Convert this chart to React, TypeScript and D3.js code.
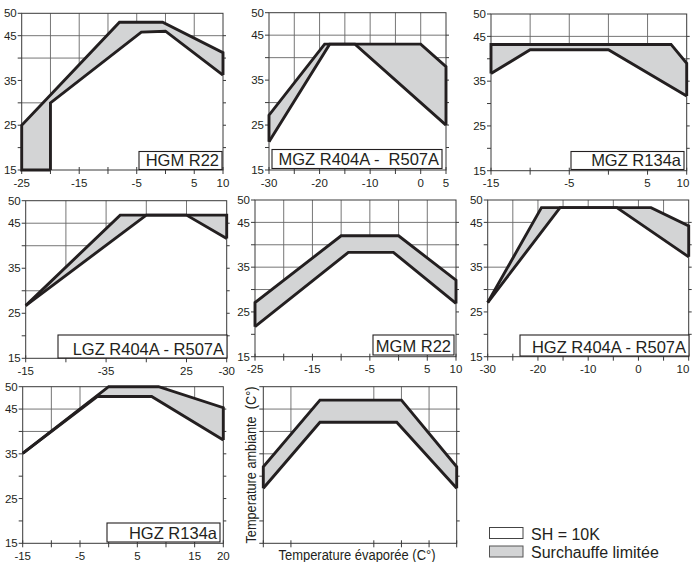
import React from "react";
import * as d3 from "d3";

type P = [number, number];

// ---- Data (evaporating temperature, ambient temperature) ----
const HGM_R22_OUTER: P[] = [[-20, 15], [-25, 15], [-25, 25], [-8, 48], [-0.5, 48], [10, 41.2], [10, 36.2]];
const HGM_R22_INNER: P[] = [[-20, 15], [-20, 30], [-4.2, 45.8], [0, 46], [10, 36.2]];

const MGZ_404_OUTER: P[] = [[-30, 21.3], [-30, 27.2], [-19, 43], [0, 43], [5, 38], [5, 25]];
const MGZ_404_INNER: P[] = [[-30, 21.3], [-18, 43], [-13, 43], [5, 25]];

const MGZ_134_OUTER: P[] = [[-15, 36.7], [-15, 43.2], [8, 43.2], [10, 39], [10, 31.7]];
const MGZ_134_INNER: P[] = [[-15, 36.7], [-10, 42], [0, 42], [10, 31.7]];

const LGZ_404_OUTER: P[] = [[0, 26.7], [2.35, 46.8], [5, 46.8], [5, 41.6]];
const LGZ_404_INNER: P[] = [[0, 26.7], [3, 46.8], [4, 46.8], [5, 41.6]];

const MGM_R22_OUTER: P[] = [[-25, 21.7], [-25, 27.1], [-10, 42], [0, 42], [10, 32.1], [10, 26.9]];
const MGM_R22_INNER: P[] = [[-25, 21.7], [-8.75, 38.3], [-0.9, 38.3], [10, 26.9]];

const HGZ_404_OUTER: P[] = [[-30, 27.1], [-19.3, 48.3], [2.5, 48.3], [10, 44.2], [10, 37.3]];
const HGZ_404_INNER: P[] = [[-30, 27.1], [-15.6, 48.3], [-4.3, 48.3], [10, 37.3]];

const HGZ_134_OUTER: P[] = [[-15, 35.1], [0, 50], [8.7, 50], [20, 45.3], [20, 38.1]];
const HGZ_134_INNER: P[] = [[-15, 35.1], [-2, 47.8], [7.5, 47.8], [20, 38.1]];

const GENERIC_OUTER: P[] = [[-25, 27.3], [-25, 32.1], [-14.75, 47], [0, 47], [10, 32.1], [10, 27.3]];
const GENERIC_INNER: P[] = [[-25, 27.3], [-14.75, 42.05], [-0.85, 42.05], [10, 27.3]];

// ---- Ticks ----
const Y_TICKS = [15, 20, 25, 30, 35, 40, 45, 50];
const Y_LABELS = [15, 25, 35, 45, 50];
const Y_TICKS_GENERIC = [20, 30, 35, 40, 45];

const X_TICKS_25_10 = [-25, -20, -15, -10, -5, 0, 5, 10];
const X_LABELS_25_10 = [-25, -15, -5, 5, 10];
const X_TICKS_30_5 = [-30, -25, -20, -15, -10, -5, 0, 5];
const X_LABELS_30_5 = [-30, -20, -10, 0, 5];
const X_TICKS_15_10 = [-15, -10, -5, 0, 5, 10];
const X_LABELS_15_10 = [-15, -5, 5, 10];
const X_TICKS_LGZ = [0, 1, 2, 3, 4, 5];
const X_LABELS_LGZ: [number, string][] = [[0, "-15"], [2, "-35"], [4, "25"], [5, "-30"]];
const X_TICKS_30_10 = [-30, -25, -20, -15, -10, -5, 0, 5, 10];
const X_LABELS_30_10 = [-30, -20, -10, 0, 10];
const X_TICKS_15_20 = [-15, -10, -5, 0, 5, 10, 15, 20];
const X_LABELS_15_20 = [-15, -5, 5, 15, 20];
const X_TICKS_GENERIC = [-25, -20, -5, 0, 5, 10];

const LEGEND_LABELS = ["SH = 10K", "Surchauffe limitée"];

const INK = "#231f20";
const GREY = "#d3d4d5";
const GRID = "#666666";
const FONT = "'Liberation Sans', Arial, Helvetica, sans-serif";

interface PanelCfg {
  name: string;
  outer: P[];
  inner: P[];
  xDomain: [number, number];
  xTicks: number[];
  xLabels: [number, string][];
  yTicks: number[];
  yLabels: number[];
  hGrid: number[];
  vGrid: number[];
  left: number;
  right: number;
  top: number;
  bottom: number;
  box?: { x: number; y: number; w: number; h: number };
}

const lab = (a: number[]): [number, string][] => a.map((v) => [v, String(v)]);

const PANELS: PanelCfg[] = [
  {
    name: "HGM R22", outer: HGM_R22_OUTER, inner: HGM_R22_INNER, xDomain: [-25, 10],
    xTicks: X_TICKS_25_10, xLabels: lab(X_LABELS_25_10), yTicks: Y_TICKS, yLabels: Y_LABELS,
    hGrid: [45, 40, 30, 20], vGrid: X_TICKS_25_10.slice(1, -1),
    left: 21.7, right: 223, top: 13.3, bottom: 170, box: { x: 139, y: 151.5, w: 83, h: 18 },
  },
  {
    name: "MGZ R404A -\u00a0\u00a0R507A", outer: MGZ_404_OUTER, inner: MGZ_404_INNER, xDomain: [-30, 5],
    xTicks: X_TICKS_30_5, xLabels: lab(X_LABELS_30_5), yTicks: Y_TICKS, yLabels: Y_LABELS,
    hGrid: [45, 40, 30, 20], vGrid: X_TICKS_30_5.slice(1, -1),
    left: 269, right: 446, top: 12.7, bottom: 170, box: { x: 272, y: 149.5, w: 170, h: 19 },
  },
  {
    name: "MGZ R134a", outer: MGZ_134_OUTER, inner: MGZ_134_INNER, xDomain: [-15, 10],
    xTicks: X_TICKS_15_10, xLabels: lab(X_LABELS_15_10), yTicks: Y_TICKS, yLabels: Y_LABELS,
    hGrid: [45, 40, 30, 20], vGrid: X_TICKS_15_10.slice(1, -1),
    left: 491, right: 686.7, top: 14, bottom: 170.7, box: { x: 571, y: 151.5, w: 113, h: 18 },
  },
  {
    name: "LGZ R404A - R507A", outer: LGZ_404_OUTER, inner: LGZ_404_INNER, xDomain: [0, 5],
    xTicks: X_TICKS_LGZ, xLabels: X_LABELS_LGZ, yTicks: Y_TICKS, yLabels: Y_LABELS,
    hGrid: [45, 40, 30, 20], vGrid: X_TICKS_LGZ.slice(1, -1),
    left: 25.7, right: 226.7, top: 200.7, bottom: 358.3, box: { x: 58, y: 335, w: 169, h: 23 },
  },
  {
    name: "MGM R22", outer: MGM_R22_OUTER, inner: MGM_R22_INNER, xDomain: [-25, 10],
    xTicks: X_TICKS_25_10, xLabels: lab(X_LABELS_25_10), yTicks: Y_TICKS, yLabels: Y_LABELS,
    hGrid: [45, 40, 35, 30, 20], vGrid: X_TICKS_25_10.slice(1, -1),
    left: 255, right: 456, top: 200, bottom: 356.7, box: { x: 373, y: 335, w: 81, h: 20 },
  },
  {
    name: "HGZ R404A - R507A", outer: HGZ_404_OUTER, inner: HGZ_404_INNER, xDomain: [-30, 10],
    xTicks: X_TICKS_30_10, xLabels: lab(X_LABELS_30_10), yTicks: Y_TICKS, yLabels: Y_LABELS,
    hGrid: [45, 35, 30, 20], vGrid: X_TICKS_30_10.slice(1, -1),
    left: 487.7, right: 688.7, top: 200, bottom: 356.7, box: { x: 520, y: 335, w: 169, h: 21 },
  },
  {
    name: "HGZ R134a", outer: HGZ_134_OUTER, inner: HGZ_134_INNER, xDomain: [-15, 20],
    xTicks: X_TICKS_15_20, xLabels: lab(X_LABELS_15_20), yTicks: Y_TICKS, yLabels: Y_LABELS,
    hGrid: [45, 40, 30, 20], vGrid: X_TICKS_15_20.slice(1, -1),
    left: 22.7, right: 223.3, top: 386.7, bottom: 543.3, box: { x: 107, y: 523, w: 113, h: 19 },
  },
  {
    name: "", outer: GENERIC_OUTER, inner: GENERIC_INNER, xDomain: [-25, 10],
    xTicks: X_TICKS_GENERIC, xLabels: [], yTicks: Y_TICKS_GENERIC, yLabels: [],
    hGrid: [45, 40, 35], vGrid: [-20, -5, 0, 5],
    left: 263.3, right: 456.7, top: 386.7, bottom: 543.3,
  },
];

function Panel({ c }: { c: PanelCfg }) {
  const x = d3.scaleLinear().domain(c.xDomain).range([c.left, c.right]);
  const y = d3.scaleLinear().domain([15, 50]).range([c.bottom, c.top]);
  const line = d3.line<P>().x((d) => x(d[0])).y((d) => y(d[1]));
  const close = (pts: P[]): P[] => [...pts, [pts[pts.length - 1][0], 15], [pts[0][0], 15]];
  const [y0, y1] = [y(15), y(50)];
  return (
    <g>
      {c.hGrid.map((v) => (
        <line key={"h" + v} x1={c.left} x2={c.right} y1={y(v)} y2={y(v)} stroke={GRID} strokeWidth={0.9} />
      ))}
      {c.vGrid.map((v) => (
        <line key={"v" + v} x1={x(v)} x2={x(v)} y1={y0} y2={y1} stroke={GRID} strokeWidth={0.9} />
      ))}
      <path d={line(close(c.outer)) + "Z"} fill={GREY} stroke="none" />
      <path d={line(close(c.inner)) + "Z"} fill="#ffffff" stroke="none" />
      <rect x={c.left} y={c.top} width={c.right - c.left} height={c.bottom - c.top} fill="none" stroke="#3a3a3a" strokeWidth={1} />
      {c.yTicks.filter((v) => v !== 15 && v !== 50).map((v) => (
        <g key={"yt" + v}>
          <line x1={c.left - 4} x2={c.left} y1={y(v)} y2={y(v)} stroke="#3a3a3a" strokeWidth={1} />
          <line x1={c.right} x2={c.right + 3} y1={y(v)} y2={y(v)} stroke="#3a3a3a" strokeWidth={1} />
        </g>
      ))}
      {[15, 50].map((v) => (
        <line key={"ye" + v} x1={c.left - 4} x2={c.left} y1={y(v)} y2={y(v)} stroke="#3a3a3a" strokeWidth={1} />
      ))}
      {c.xTicks.map((v) => (
        <line key={"xt" + v} x1={x(v)} x2={x(v)} y1={c.bottom - 3} y2={c.bottom + 4} stroke="#3a3a3a" strokeWidth={1} />
      ))}
      <path d={line(c.outer) ?? ""} fill="none" stroke={INK} strokeWidth={2.9} strokeLinejoin="miter" />
      <path d={line(c.inner) ?? ""} fill="none" stroke={INK} strokeWidth={2.9} strokeLinejoin="miter" />
      {c.yLabels.map((v) => (
        <text key={"yl" + v} x={c.left - 5} y={y(v)} dy="0.36em" textAnchor="end" fontSize={11.5} fill={INK} fontFamily={FONT}>
          {v}
        </text>
      ))}
      {c.xLabels.map(([v, s]) => (
        <text key={"xl" + v} x={Math.min(x(v), 683)} y={c.bottom + 16.5} textAnchor="middle" fontSize={11.5} fill={INK} fontFamily={FONT}>
          {s}
        </text>
      ))}
      {c.box && (
        <g>
          <rect x={c.box.x} y={c.box.y} width={c.box.w} height={c.box.h} fill="#fff" stroke={INK} strokeWidth={1.1} />
          <text x={c.box.x + c.box.w - 3} y={c.box.y + c.box.h - 3.5} textAnchor="end" fontSize={16.5} fill={INK} fontFamily={FONT}>
            {c.name}
          </text>
        </g>
      )}
    </g>
  );
}

export default function App() {
  return (
    <svg width={693} height={562} style={{ position: "absolute", left: 0, top: 0, background: "#fff" }}>
      <rect x={0} y={0} width={693} height={562} fill="#fff" />
      {PANELS.map((c, i) => (
        <Panel key={i} c={c} />
      ))}
      <text
        transform="translate(256,465) rotate(-90)"
        textAnchor="middle"
        fontSize={15}
        fill={INK}
        fontFamily={FONT}
        textLength={157}
        lengthAdjust="spacingAndGlyphs"
      >
        {"Temperature ambiante\u00a0\u00a0(C°)"}
      </text>
      <text x={357} y={560} textAnchor="middle" fontSize={14} fill={INK} fontFamily={FONT} textLength={157} lengthAdjust="spacingAndGlyphs">
        Temperature évaporée (C°)
      </text>
      <rect x={489.5} y={527.5} width={33.5} height={11} fill="#fff" stroke="#444" strokeWidth={1} />
      <rect x={489.5} y={546} width={33.5} height={11} fill={GREY} stroke="#555" strokeWidth={1} />
      <text x={531} y={539.5} fontSize={16} fill={INK} fontFamily={FONT}>{LEGEND_LABELS[0]}</text>
      <text x={531} y={558} fontSize={16} fill={INK} fontFamily={FONT}>{LEGEND_LABELS[1]}</text>
    </svg>
  );
}
